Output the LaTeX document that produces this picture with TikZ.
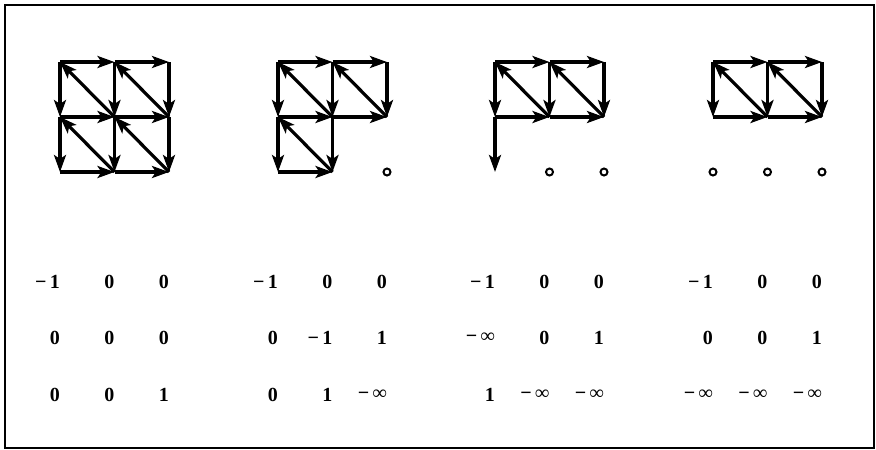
\documentclass[tikz,border=0pt]{standalone}
\usepackage{fontspec}
\setmainfont{Liberation Serif}
\usetikzlibrary{arrows.meta}

\tikzset{
  move/.style={line width=3.2pt,-{Stealth[length=17pt,width=12pt,inset=4pt]}},
  hole/.style={circle,draw,line width=2pt,inner sep=0pt,minimum size=7pt},
  score/.style={anchor=east,inner sep=0pt,font=\fontsize{20}{22}\selectfont\bfseries}
}

\begin{document}
\begin{tikzpicture}[x=1pt,y=-1pt]
\useasboundingbox (0,0) rectangle (876,450);
\draw[line width=2.4pt] (5,5) rectangle (874,448);
% lattice points of the four panels
\foreach \p/\xo in {A/60,B/278,C/495,D/713}
  \foreach \i in {0,1,2}
    \foreach \j in {0,1,2}
      \coordinate (\p-\i-\j) at (\xo+54.5*\i,62+55*\j);
% panel A
\draw[move] (A-0-0) -- (A-1-0);
\draw[move] (A-1-0) -- (A-2-0);
\draw[move] (A-0-1) -- (A-1-1);
\draw[move] (A-1-1) -- (A-2-1);
\draw[move] (A-0-2) -- (A-1-2);
\draw[move] (A-1-2) -- (A-2-2);
\draw[move] (A-0-0) -- (A-0-1);
\draw[move] (A-0-1) -- (A-0-2);
\draw[move] (A-1-0) -- (A-1-1);
\draw[move] (A-1-1) -- (A-1-2);
\draw[move] (A-2-0) -- (A-2-1);
\draw[move] (A-2-1) -- (A-2-2);
\draw[move] (A-1-1) -- (A-0-0);
\draw[move] (A-2-1) -- (A-1-0);
\draw[move] (A-1-2) -- (A-0-1);
\draw[move] (A-2-2) -- (A-1-1);
% panel B
\draw[move] (B-0-0) -- (B-1-0);
\draw[move] (B-1-0) -- (B-2-0);
\draw[move] (B-0-1) -- (B-1-1);
\draw[move] (B-1-1) -- (B-2-1);
\draw[move] (B-0-2) -- (B-1-2);
\draw[move] (B-0-0) -- (B-0-1);
\draw[move] (B-0-1) -- (B-0-2);
\draw[move] (B-1-0) -- (B-1-1);
\draw[move] (B-1-1) -- (B-1-2);
\draw[move] (B-2-0) -- (B-2-1);
\draw[move] (B-1-1) -- (B-0-0);
\draw[move] (B-2-1) -- (B-1-0);
\draw[move] (B-1-2) -- (B-0-1);
\node[hole] (B-dot) at (B-2-2) {};
% panel C
\draw[move] (C-0-0) -- (C-1-0);
\draw[move] (C-1-0) -- (C-2-0);
\draw[move] (C-0-1) -- (C-1-1);
\draw[move] (C-1-1) -- (C-2-1);
\draw[move] (C-0-0) -- (C-0-1);
\draw[move] (C-0-1) -- (C-0-2);
\draw[move] (C-1-0) -- (C-1-1);
\draw[move] (C-2-0) -- (C-2-1);
\draw[move] (C-1-1) -- (C-0-0);
\draw[move] (C-2-1) -- (C-1-0);
\node[hole] (C-dot1) at (C-1-2) {};
\node[hole] (C-dot2) at (C-2-2) {};
% panel D
\draw[move] (D-0-0) -- (D-1-0);
\draw[move] (D-1-0) -- (D-2-0);
\draw[move] (D-0-1) -- (D-1-1);
\draw[move] (D-1-1) -- (D-2-1);
\draw[move] (D-0-0) -- (D-0-1);
\draw[move] (D-1-0) -- (D-1-1);
\draw[move] (D-2-0) -- (D-2-1);
\draw[move] (D-1-1) -- (D-0-0);
\draw[move] (D-2-1) -- (D-1-0);
\node[hole] (D-dot0) at (D-0-2) {};
\node[hole] (D-dot1) at (D-1-2) {};
\node[hole] (D-dot2) at (D-2-2) {};
% score tables
\node[score] (A-r1c1) at (60,282) {−\,1};
\node[score] (A-r1c2) at (114.5,282) {0};
\node[score] (A-r1c3) at (169,282) {0};
\node[score] (A-r2c1) at (60,338) {0};
\node[score] (A-r2c2) at (114.5,338) {0};
\node[score] (A-r2c3) at (169,338) {0};
\node[score] (A-r3c1) at (60,395) {0};
\node[score] (A-r3c2) at (114.5,395) {0};
\node[score] (A-r3c3) at (169,395) {1};
\node[score] (B-r1c1) at (278,282) {−\,1};
\node[score] (B-r1c2) at (332.5,282) {0};
\node[score] (B-r1c3) at (387,282) {0};
\node[score] (B-r2c1) at (278,338) {0};
\node[score] (B-r2c2) at (332.5,338) {−\,1};
\node[score] (B-r2c3) at (387,338) {1};
\node[score] (B-r3c1) at (278,395) {0};
\node[score] (B-r3c2) at (332.5,395) {1};
\node[score] (B-r3c3) at (387,395) {−\,∞};
\node[score] (C-r1c1) at (495,282) {−\,1};
\node[score] (C-r1c2) at (549.5,282) {0};
\node[score] (C-r1c3) at (604,282) {0};
\node[score] (C-r2c1) at (495,338) {−\,∞};
\node[score] (C-r2c2) at (549.5,338) {0};
\node[score] (C-r2c3) at (604,338) {1};
\node[score] (C-r3c1) at (495,395) {1};
\node[score] (C-r3c2) at (549.5,395) {−\,∞};
\node[score] (C-r3c3) at (604,395) {−\,∞};
\node[score] (D-r1c1) at (713,282) {−\,1};
\node[score] (D-r1c2) at (767.5,282) {0};
\node[score] (D-r1c3) at (822,282) {0};
\node[score] (D-r2c1) at (713,338) {0};
\node[score] (D-r2c2) at (767.5,338) {0};
\node[score] (D-r2c3) at (822,338) {1};
\node[score] (D-r3c1) at (713,395) {−\,∞};
\node[score] (D-r3c2) at (767.5,395) {−\,∞};
\node[score] (D-r3c3) at (822,395) {−\,∞};
\end{tikzpicture}
\end{document}
